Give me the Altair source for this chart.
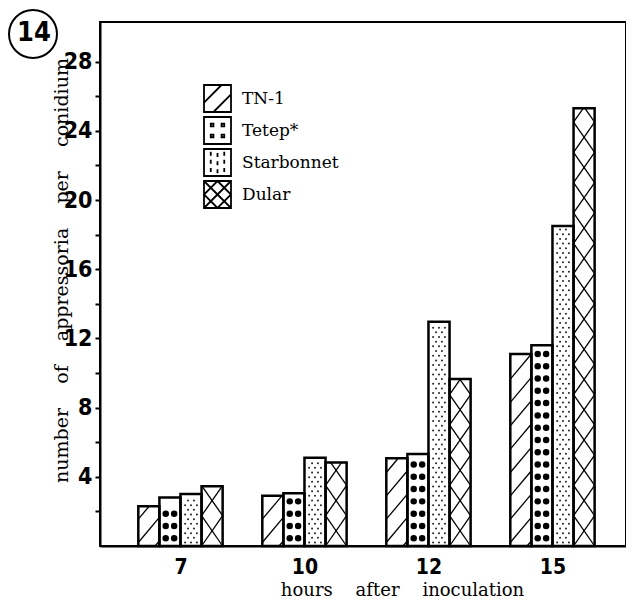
import json
import altair as alt
import pandas as pd
import numpy as np

# ---- data ----
hours = ["7", "10", "12", "15"]
cultivars = ["TN-1", "Tetep*", "Starbonnet", "Dular"]
tn1 = [2.3, 2.9, 5.07, 11.1]
tetep = [2.8, 3.05, 5.32, 11.6]
starbonnet = [3.0, 5.1, 12.97, 18.5]
dular = [3.45, 4.82, 9.65, 25.3]
y_ticks = list(range(2, 30, 2))

series = [tn1, tetep, starbonnet, dular]

BW = 0.17  # bar width in group units
rows = []
for s, vals in enumerate(series):
    for g, v in enumerate(vals):
        xl = g + (s - 2) * BW
        rows.append(dict(cultivar=cultivars[s], s=s, g=g, hour=hours[g],
                         value=v, xl=xl, xr=xl + BW, xc=xl + BW / 2))
bars = pd.DataFrame(rows)


def hatch(xl, xr, top, rise, spacing, direction, phase=0.0):
    out = []
    y0 = -rise + phase
    while y0 < top:
        t0 = max(0.0, (0 - y0) / rise)
        t1 = min(1.0, (top - y0) / rise)
        if t1 > t0:
            if direction == 1:
                xa, xb = xl + t0 * (xr - xl), xl + t1 * (xr - xl)
            else:
                xa, xb = xr - t0 * (xr - xl), xr - t1 * (xr - xl)
            out.append(dict(x=xa, x2=xb, y=y0 + rise * t0, y2=y0 + rise * t1))
        y0 += spacing
    return out


lines = []
dots = []
stipple = []
for r in rows:
    xl, xr, v = r["xl"], r["xr"], r["value"]
    if r["s"] == 0:
        lines += hatch(xl, xr, v, 1.45, 1.35, 1, 0.3)
    elif r["s"] == 3:
        lines += hatch(xl, xr, v, 1.75, 1.75, 1, 0.0)
        lines += hatch(xl, xr, v, 1.75, 1.75, -1, 0.0)
    elif r["s"] == 1:
        for yy in np.arange(0.45, v - 0.25, 0.71):
            dots.append(dict(x=xl + 0.3 * BW, y=yy))
            dots.append(dict(x=xl + 0.7 * BW, y=yy))
    elif r["s"] == 2:
        for i, yy in enumerate(np.arange(0.2, v - 0.1, 0.27)):
            fr = [0.22, 0.5, 0.78] if i % 2 == 0 else [0.36, 0.64]
            for f in fr:
                stipple.append(dict(x=xl + f * BW, y=yy))

lines = pd.DataFrame(lines)
dots = pd.DataFrame(dots)
stipple = pd.DataFrame(stipple)

xs = alt.Scale(domain=[-0.649, 3.593], nice=False, zero=False)
ys = alt.Scale(domain=[0, 30.29], nice=False, zero=True)

NARROW = "Liberation Sans Narrow, DejaVu Sans Condensed, sans-serif"
SERIF = "DejaVu Serif, serif"
NB = "\u00a0\u00a0\u00a0\u00a0"

label_expr = json.dumps(hours) + "[datum.value]"

x_axis = alt.Axis(values=[0, 1, 2, 3], labelExpr=label_expr, ticks=False,
                  grid=False, labelFont=NARROW, labelFontWeight="bold",
                  labelFontSize=21, labelPadding=10, labelColor="black",
                  domainColor="black", domainWidth=2,
                  title=NB.join(["hours", "after", "inoculation"]),
                  titleFont=SERIF, titleFontSize=18, titleFontWeight="normal",
                  titleColor="black", titleX=302, titleY=49,
                  titleAlign="center", titleBaseline="alphabetic")
y_axis = alt.Axis(values=y_ticks,
                  labelExpr="datum.value % 4 == 0 ? datum.label : ''",
                  grid=False, tickSize=5, tickWidth=2, tickColor="black",
                  labelFont=NARROW, labelFontWeight="bold", labelFontSize=23,
                  labelPadding=3, labelColor="black",
                  domainColor="black", domainWidth=2,
                  title=NB.join(["number", "of", "appressoria", "per", "conidium"]),
                  titleFont=SERIF, titleFontSize=19, titleFontWeight="normal",
                  titleColor="black", titleX=-39, titleY=248, titleAngle=270,
                  titleAlign="center", titleBaseline="middle")


def X(field):
    return alt.X(field, scale=xs, axis=x_axis)


def Y(field):
    return alt.Y(field, scale=ys, axis=y_axis)


fill_layer = alt.Chart(bars).mark_bar(fill="white", strokeWidth=0).encode(
    x=X("xl:Q"), x2="xr:Q", y=Y("value:Q"), y2=alt.datum(0),
)

line_layer = alt.Chart(lines).mark_rule(color="black", strokeWidth=1.3).encode(
    x=X("x:Q"), x2="x2:Q", y=Y("y:Q"), y2="y2:Q",
)

dot_layer = alt.Chart(dots).mark_circle(color="black", size=42, opacity=1).encode(
    x=X("x:Q"), y=Y("y:Q"),
)

stipple_layer = alt.Chart(stipple).mark_circle(color="#222222", size=4, opacity=1).encode(
    x=X("x:Q"), y=Y("y:Q"),
)

outline_layer = alt.Chart(bars).mark_bar(fill="transparent", stroke="black", strokeWidth=2.5).encode(
    x=X("xl:Q"), x2="xr:Q", y=Y("value:Q"), y2=alt.datum(0),
)

box = "M-1,-1H1V1H-1Z"
shape_paths = [
    box + "M-1,0.3L0.3,-1M-0.3,1L1,-0.3",
    box + "M-0.5,-0.5h0.2v0.2h-0.2ZM0.3,-0.5h0.2v0.2h-0.2ZM-0.5,0.3h0.2v0.2h-0.2ZM0.3,0.3h0.2v0.2h-0.2Z",
    box + "M-0.5,-0.8V-0.5M-0.5,-0.2V0.1M-0.5,0.4V0.7M0,-0.7V-0.4M0,-0.1V0.2M0,0.5V0.8"
          "M0.5,-0.8V-0.5M0.5,-0.2V0.1M0.5,0.4V0.7",
    box + "M-1,-1L1,1M-1,1L1,-1M0,-1L1,0L0,1L-1,0Z",
]

legend_layer = alt.Chart(bars).mark_point(filled=False, color="black", opacity=0).encode(
    x=X("xc:Q"), y=Y("value:Q"),
    shape=alt.Shape("cultivar:N",
                    scale=alt.Scale(domain=cultivars, range=shape_paths),
                    legend=alt.Legend(orient="none", legendX=103, legendY=62,
                                      title=None, symbolSize=729,
                                      symbolStrokeWidth=1.8,
                                      symbolStrokeColor="black",
                                      symbolFillColor="white",
                                      symbolOpacity=1, labelFont=SERIF,
                                      labelFontSize=17, labelColor="black",
                                      labelOffset=10, rowPadding=-7, padding=0)),
)

panel_circle = alt.Chart(pd.DataFrame({"lab": ["14"]})).mark_point(
    shape="circle", size=2304, filled=False, color="black", strokeWidth=2, opacity=1
).encode(x=alt.value(-67), y=alt.value(12))

panel_text = alt.Chart(pd.DataFrame({"lab": ["14"]})).mark_text(
    font=NARROW, fontWeight="bold", fontSize=27, color="black",
    align="center", baseline="middle"
).encode(x=alt.value(-66), y=alt.value(11), text="lab:N")

chart = alt.layer(
    fill_layer, line_layer, dot_layer, stipple_layer, outline_layer,
    legend_layer, panel_circle, panel_text
).properties(
    width=526, height=524,
    autosize=alt.AutoSizeParams(type="none"),
    padding={"left": 92, "top": 14, "right": 0, "bottom": 52},
    background="white",
).configure_view(stroke="black", strokeWidth=2)

chart.save("out.html", embed_options={"renderer": "svg", "actions": False})
